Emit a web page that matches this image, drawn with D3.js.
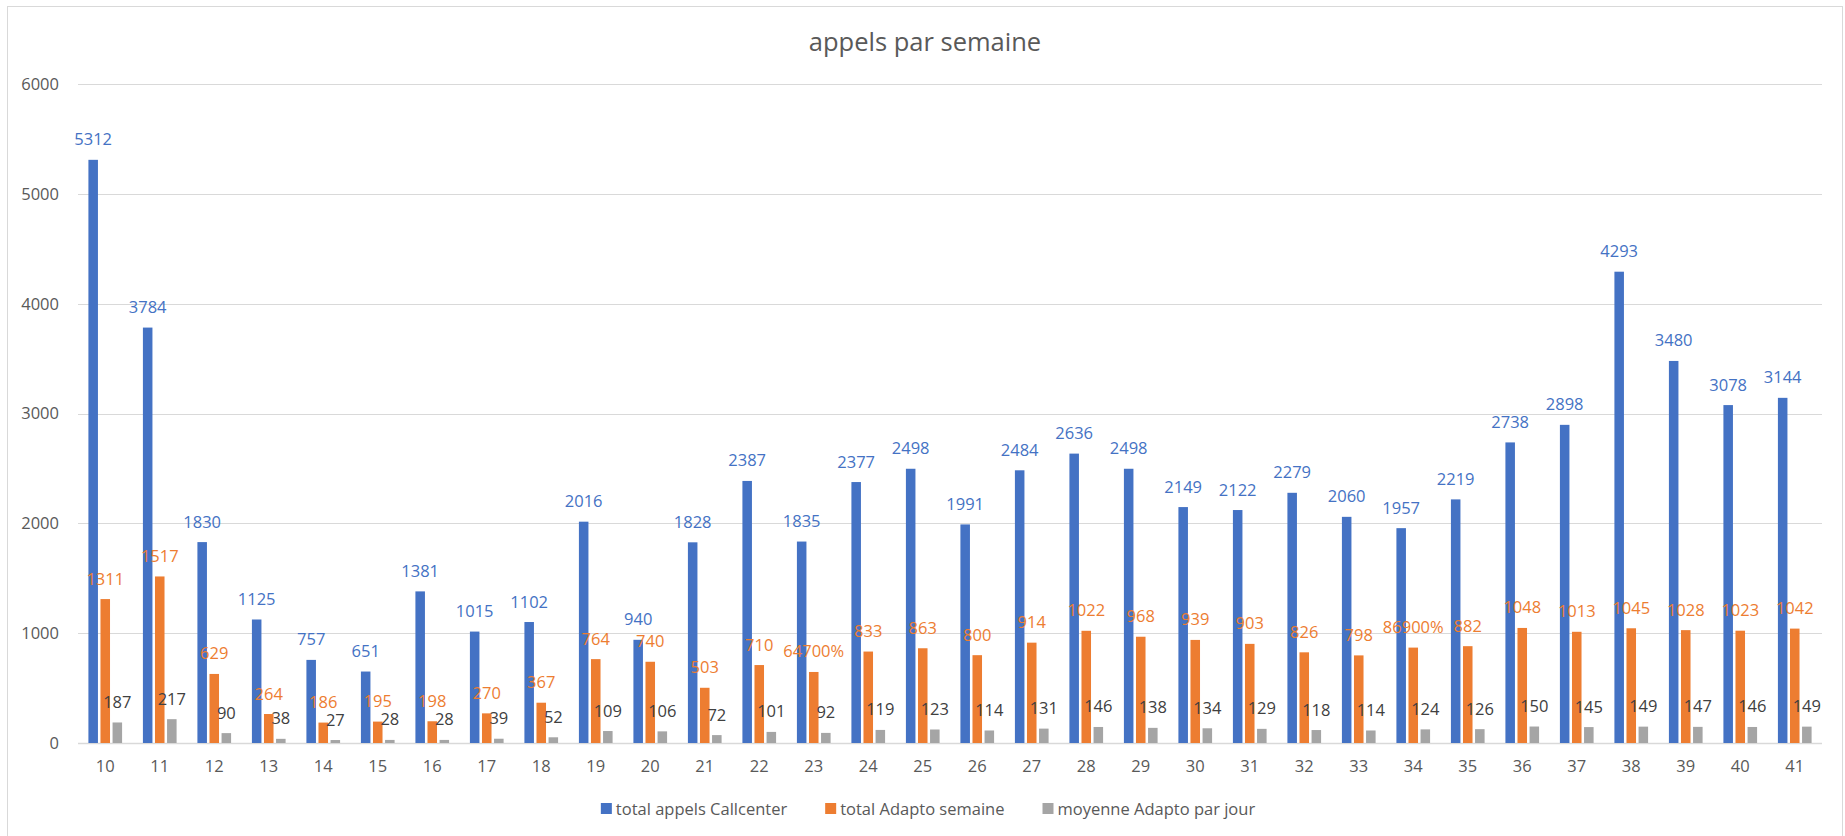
<!DOCTYPE html>
<html>
<head>
<meta charset="utf-8">
<script src="https://cdn.jsdelivr.net/npm/d3@7"></script>
<style>
  body { margin: 0; background: #fff; }
  text { font-family: "Open Sans", sans-serif; }
</style>
</head>
<body>
<div id="chart"></div>
<script>
// weekly numbers
const weeks = [10, 11, 12, 13, 14, 15, 16, 17, 18, 19, 20, 21, 22, 23, 24, 25,
  26, 27, 28, 29, 30, 31, 32, 33, 34, 35, 36, 37, 38, 39, 40, 41];
const callcenter = [5312, 3784, 1830, 1125, 757, 651, 1381, 1015, 1102, 2016, 940, 1828,
  2387, 1835, 2377, 2498, 1991, 2484, 2636, 2498, 2149, 2122, 2279, 2060, 1957, 2219,
  2738, 2898, 4293, 3480, 3078, 3144];
const adaptoWeek = [1311, 1517, 629, 264, 186, 195, 198, 270, 367, 764, 740, 503,
  710, 647, 833, 863, 800, 914, 1022, 968, 939, 903, 826, 798, 869, 882,
  1048, 1013, 1045, 1028, 1023, 1042];
const adaptoDay = [187, 217, 90, 38, 27, 28, 28, 39, 52, 109, 106, 72,
  101, 92, 119, 123, 114, 131, 146, 138, 134, 129, 118, 114, 124, 126,
  150, 145, 149, 147, 146, 149];
// these two labels were formatted as percent in the sheet
const percentWeeks = [23, 34];
const seriesNames = ["total appels Callcenter", "total Adapto semaine", "moyenne Adapto par jour"];
const yTicks = [0, 1000, 2000, 3000, 4000, 5000, 6000];

const COLORS = ["#4472C4", "#ED7D31", "#A5A5A5"];
const LABEL_COLORS = ["#4472C4", "#ED7D31", "#404040"];
const AXIS_TEXT = "#595959";
const GRID = "#D9D9D9";

let width = 1845,
  height = 836;
let plot = { left: 78, right: 1822, top: 84.3, bottom: 743 };

let series = [callcenter, adaptoWeek, adaptoDay];
let rows = weeks.map((w, i) => ({ week: w, values: series.map((s) => s[i]) }));

let svg = d3
  .select("#chart")
  .append("svg")
  .attr("width", width)
  .attr("height", height);

// chart frame
svg.append("rect")
  .attr("x", 7.5)
  .attr("y", 6.5)
  .attr("width", 1835)
  .attr("height", 850)
  .attr("fill", "#fff")
  .attr("stroke", GRID);

let x0 = d3.scaleBand()
  .domain(weeks)
  .range([plot.left, plot.right])
  .paddingInner(0.382)
  .paddingOuter(0.191);

let x1 = d3.scaleBand()
  .domain([0, 1, 2])
  .range([0, x0.bandwidth()])
  .paddingInner(0.21);

let y = d3.scaleLinear().domain([0, 6000]).range([plot.bottom, plot.top]);

// gridlines
svg.append("g")
  .selectAll("line")
  .data(yTicks)
  .join("line")
  .attr("x1", plot.left)
  .attr("x2", plot.right)
  .attr("y1", (d) => Math.round(y(d)) + 0.5)
  .attr("y2", (d) => Math.round(y(d)) + 0.5)
  .attr("stroke", GRID)
  .attr("stroke-width", (d) => (d === 0 ? 1.5 : 1));

// y axis labels (no axis line in excel, so style the d3 axis away)
let yAxis = svg.append("g")
  .attr("transform", `translate(${plot.left - 19},0)`)
  .call(d3.axisLeft(y).tickValues(yTicks).tickFormat(d3.format("d")).tickSize(0).tickPadding(0));
yAxis.select(".domain").remove();
yAxis.selectAll("text")
  .attr("font-size", "16.5px")
  .attr("font-family", "Open Sans")
  .attr("fill", AXIS_TEXT);

// x axis labels
let xAxis = svg.append("g")
  .attr("transform", `translate(0,${plot.bottom})`)
  .call(d3.axisBottom(x0).tickSize(0).tickPadding(17));
xAxis.select(".domain").remove();
xAxis.selectAll("text")
  .attr("font-size", "16.5px")
  .attr("font-family", "Open Sans")
  .attr("fill", AXIS_TEXT);

// bars
let groups = svg.append("g")
  .selectAll("g")
  .data(rows)
  .join("g")
  .attr("transform", (d) => `translate(${x0(d.week)},0)`);

groups.selectAll("rect")
  .data((d) => d.values.map((v, k) => ({ k: k, v: v, week: d.week })))
  .join("rect")
  .attr("x", (d) => x1(d.k))
  .attr("y", (d) => y(d.v))
  .attr("width", x1.bandwidth())
  .attr("height", (d) => y(0) - y(d.v))
  .attr("fill", (d) => COLORS[d.k]);

// data labels above each bar
groups.selectAll("text")
  .data((d) => d.values.map((v, k) => ({ k: k, v: v, week: d.week })))
  .join("text")
  .attr("x", (d) => x1(d.k) + x1.bandwidth() / 2)
  .attr("y", (d) => y(d.v) - 14.5)
  .attr("text-anchor", "middle")
  .attr("font-size", "16.5px")
  .attr("fill", (d) => LABEL_COLORS[d.k])
  .text((d) => {
    if (d.k === 1 && percentWeeks.includes(d.week)) return d.v * 100 + "%";
    return d.v;
  });

// title
svg.append("text")
  .attr("x", 925)
  .attr("y", 51)
  .attr("text-anchor", "middle")
  .attr("font-size", "25.5px")
  .attr("fill", AXIS_TEXT)
  .text("appels par semaine");

// legend, centered under the plot
let legend = svg.append("g");
let items = legend.selectAll("g")
  .data(seriesNames)
  .join("g");
items.append("rect")
  .attr("width", 11)
  .attr("height", 11)
  .attr("y", -6)
  .attr("fill", (d, i) => COLORS[i]);
items.append("text")
  .attr("x", 15)
  .attr("y", 6)
  .attr("font-size", "16.5px")
  .attr("fill", AXIS_TEXT)
  .text((d) => d);

let offset = 0;
items.each(function () {
  let w = this.querySelector("text").getComputedTextLength() + 15;
  d3.select(this).attr("transform", `translate(${offset},0)`);
  offset += w + 38;
});
let total = offset - 38;
legend.attr("transform", `translate(${928 - total / 2},809)`);
</script>
</body>
</html>
